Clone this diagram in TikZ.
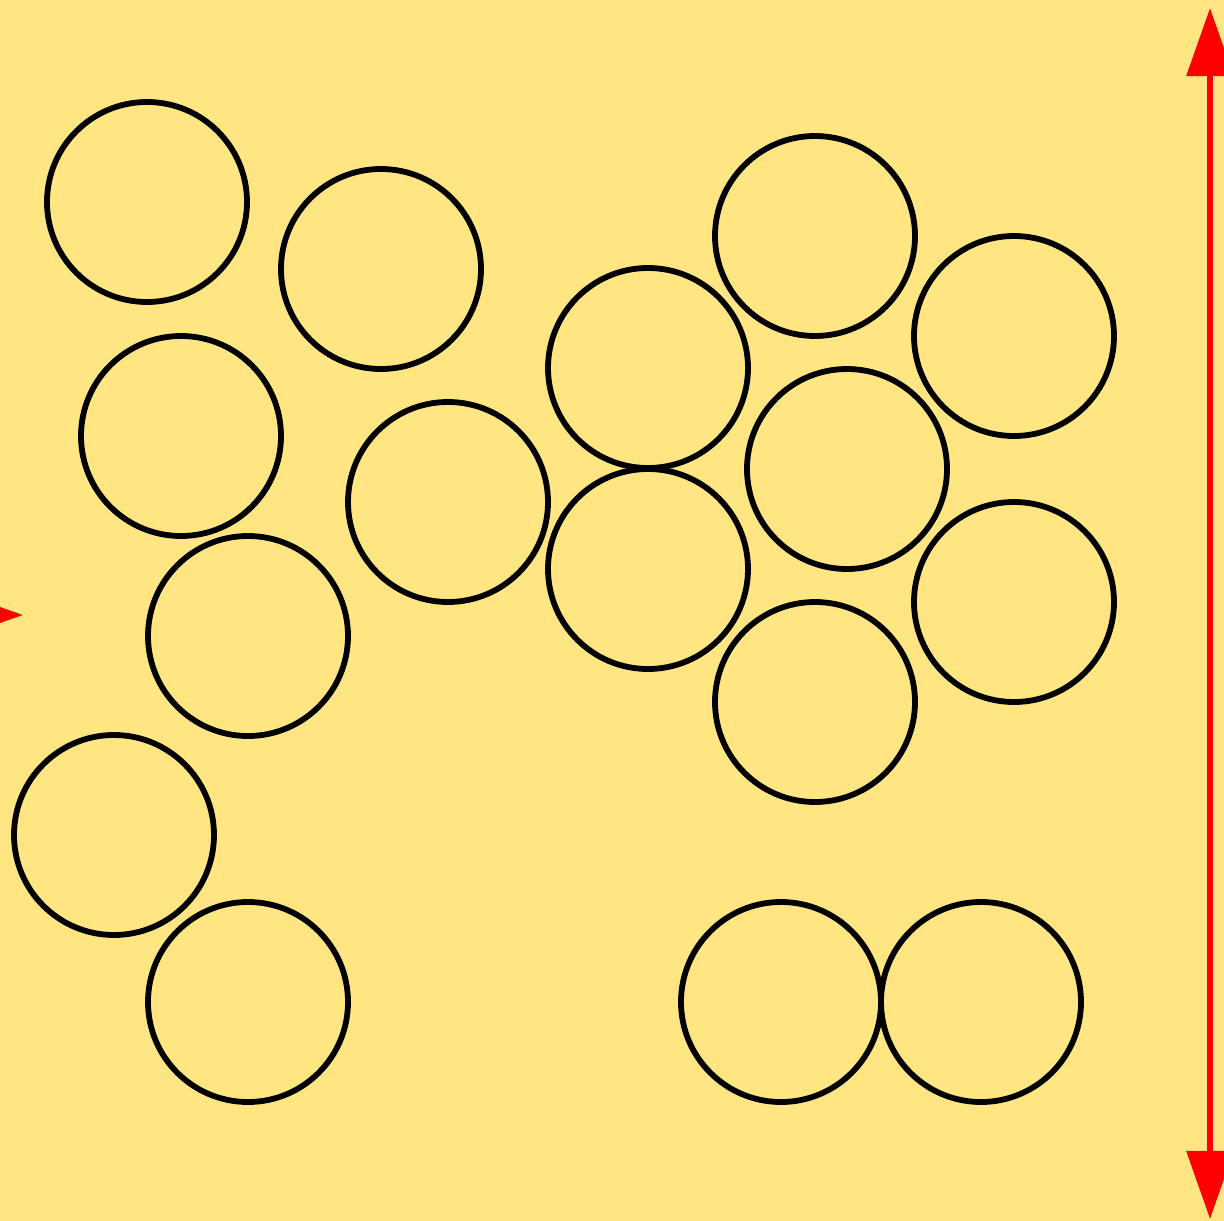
\documentclass[tikz,border=0pt]{standalone}
\usepackage{tikz}
\usetikzlibrary{arrows.meta}
\definecolor{sand}{HTML}{FFE682}
\definecolor{signal_red}{HTML}{FF0000}

\begin{document}
\begin{tikzpicture}[x=0.01cm,y=-0.01cm,
    particle/.style={draw=black,line width=1.65pt},
    bigtip/.style={-{Triangle[length=0.68cm,width=0.46cm]}}]

    \clip (0,0) rectangle (1224,1221);
    \fill[sand] (0,0) rectangle (1224,1221);
    \useasboundingbox (0,0) rectangle (1224,1221);

    % left column
    \draw[particle] (147,202) circle (100);
    \draw[particle] (381,269) circle (100);
    \draw[particle] (181,436) circle (100);
    \draw[particle] (448,502) circle (100);
    \draw[particle] (248,636) circle (100);
    \draw[particle] (114,835) circle (100);
    \draw[particle] (248,1002) circle (100);

    % right cluster
    \draw[particle] (648,368) circle (100);
    \draw[particle] (648,569) circle (100);
    \draw[particle] (815,236) circle (100);
    \draw[particle] (1014,336) circle (100);
    \draw[particle] (847,469) circle (100);
    \draw[particle] (1014,602) circle (100);
    \draw[particle] (815,702) circle (100);

    % bottom pair
    \draw[particle] (781,1002) circle (100);
    \draw[particle] (981,1002) circle (100);

    \coordinate (top) at (1210,8);
    \coordinate (bottom) at (1210,1219);
    \coordinate (mid) at (1210,614);
    \draw[signal_red,line width=1.7pt,bigtip] (mid) -- (top);
    \draw[signal_red,line width=1.7pt,bigtip] (mid) -- (bottom);

    \coordinate (inlet) at (-120,615);
    \coordinate (inlet tip) at (23,615);
    \draw[signal_red,line width=1.7pt,bigtip] (inlet) -- (inlet tip);

\end{tikzpicture}
\end{document}
